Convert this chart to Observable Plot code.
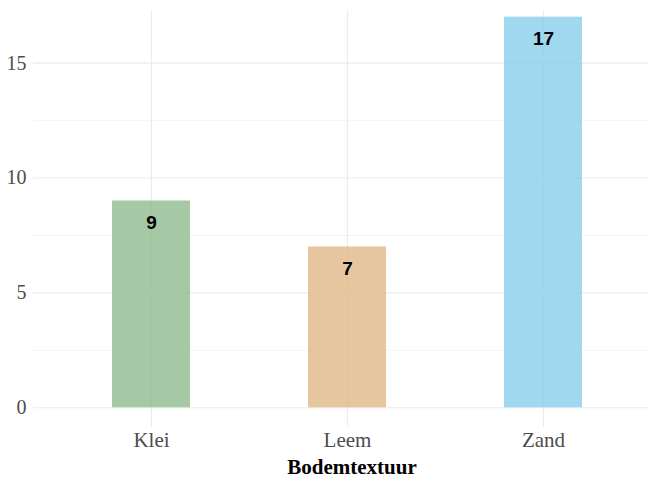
<!DOCTYPE html>
<html><head><meta charset="utf-8">
<script src="https://cdn.jsdelivr.net/npm/d3@7"></script>
<script src="https://cdn.jsdelivr.net/npm/@observablehq/plot@0.6"></script>
<style>body{margin:0;background:#fff;overflow:hidden}</style>
</head><body><div id="chart"></div><script>
const categories = ["Klei", "Leem", "Zand"];
const counts = [9, 7, 17];
const colors = ["#8FBC8F", "#DEB887", "#87CEEB"];
const yTicks = [0, 5, 10, 15];
const yMinor = [2.5, 7.5, 12.5];
const xTitle = "Bodemtextuur";

const data = categories.map((c, i) => ({cat: c, n: counts[i]}));

const chart = Plot.plot({
  width: 648, height: 479,
  marginLeft: 33, marginRight: 0, marginTop: 10, marginBottom: 52.5,
  style: {fontFamily: "Liberation Serif", background: "#fff"},
  x: {domain: categories, range: [33, 662], paddingInner: 0.6, paddingOuter: 0.4, axis: null},
  y: {domain: [-0.835, 17.29], axis: null},
  color: {domain: categories, range: colors},
  marks: [
    Plot.ruleY(yMinor, {stroke: "#ebebeb", strokeWidth: 0.55}),
    Plot.ruleY(yTicks, {stroke: "#ebebeb", strokeWidth: 1.1}),
    Plot.gridX(categories, {stroke: "#ebebeb", strokeOpacity: 1, strokeWidth: 1.1}),
    Plot.barY(data, {x: "cat", y: "n", fill: "cat", fillOpacity: 0.8}),
    Plot.text(data, {x: "cat", y: "n", text: d => String(d.n), dy: 21.5, fontFamily: "Liberation Sans", fontWeight: "bold", fontSize: 19, fill: "#000"}),
    Plot.axisY(yTicks, {tickSize: 0, tickPadding: 7, fontSize: 20, fill: "#4d4d4d", label: null}),
    Plot.text(categories, {x: d => d, frameAnchor: "bottom", dy: 19.5, fontSize: 21, fill: "#4d4d4d"}),
    Plot.text([xTitle], {frameAnchor: "bottom", dx: 11, dy: 46.5, fontSize: 21, fontWeight: "bold", fill: "#000"})
  ]
});
document.getElementById("chart").appendChild(chart);
</script></body></html>
